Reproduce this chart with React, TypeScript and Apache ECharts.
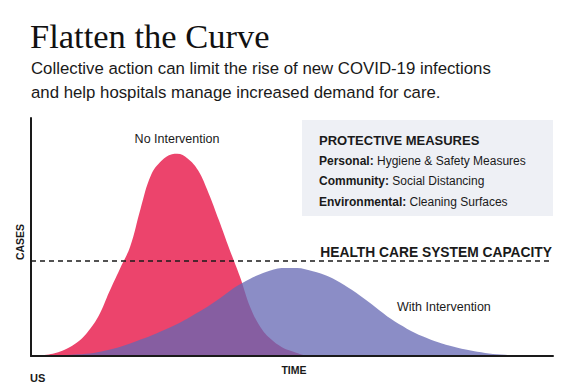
import React, { useEffect, useRef } from "react";
import * as echarts from "echarts";

const redTime = [0, 3, 6, 9, 11, 13, 15, 17, 19, 21, 23, 25, 27, 28, 30, 32, 34, 36, 38, 40, 42, 44, 46, 48, 50, 53, 56, 100];
const redCases = [0, 0.5, 2.2, 6, 10.5, 17, 27, 36.5, 46, 62, 76, 82, 84.8, 85, 83, 78, 68.5, 57, 45, 33.5, 20.5, 12, 7, 3.8, 2, 0.2, 0, 0];

const blueTime = [0, 3, 6, 9, 12, 15, 18, 21, 24, 27, 30, 33, 36, 39, 42, 45, 48, 51, 54, 57, 60, 63, 66, 69, 72, 75, 78, 81, 84, 87, 90, 93, 96, 100];
const blueCases = [0, 0.1, 0.3, 0.7, 1.3, 2.6, 4.5, 6.9, 9.5, 12.4, 15.8, 19.6, 24, 28.8, 32.5, 35.3, 37, 37, 35.6, 33.4, 29.8, 25.4, 20.5, 15.5, 11.5, 8.3, 5.8, 3.9, 2.4, 1.3, 0.6, 0.2, 0, 0];

const capacity = 40;

const titleText = "Flatten the Curve";
const subtitleLines = [
  "Collective action can limit the rise of new COVID-19 infections",
  "and help hospitals manage increased demand for care.",
];
const boxTitle = "PROTECTIVE MEASURES";
const measureLabels = ["Personal:", "Community:", "Environmental:"];
const measureValues = ["Hygiene & Safety Measures", "Social Distancing", "Cleaning Surfaces"];
const seriesNames = ["No Intervention", "With Intervention"];
const capacityLabel = "HEALTH CARE SYSTEM CAPACITY";
const xName = "TIME";
const yName = "CASES";
const footer = "US";

const INK = "#1a1a1a";
const SANS = "'Liberation Sans', Arial, sans-serif";

function txt(x: number, y: number, text: string, font: string, align: string = "left", extra: any = {}) {
  return {
    type: "text",
    x,
    y,
    z: 20,
    ...extra,
    style: {
      text,
      font,
      fill: INK,
      align,
      textAlign: align,
      verticalAlign: "middle",
      textVerticalAlign: "middle",
    },
  };
}

export default function App() {
  const ref = useRef<HTMLDivElement>(null);
  useEffect(() => {
    if (!ref.current) return;
    const chart = echarts.init(ref.current, undefined, { renderer: "svg" });
    const boldFont = `bold 12px ${SANS}`;
    const labelWidths = [58, 73.3, 90.5];
    const measureTexts: any[] = [];
    measureLabels.forEach((lab, i) => {
      const y = 161 + i * 20.3;
      measureTexts.push(txt(319, y, lab, boldFont));
      measureTexts.push(txt(319 + labelWidths[i], y, measureValues[i], `12px ${SANS}`));
    });
    chart.setOption({
      animation: false,
      backgroundColor: "#ffffff",
      grid: { left: 31, right: 23, top: 118, bottom: 27 },
      xAxis: {
        type: "value",
        min: 0,
        max: 100,
        z: 10,
        axisLine: { show: true, lineStyle: { color: "#1a1a1a", width: 2 } },
        axisTick: { show: false },
        axisLabel: { show: false },
        splitLine: { show: false },
      },
      yAxis: {
        type: "value",
        min: 0,
        max: 100,
        z: 10,
        axisLine: { show: true, lineStyle: { color: "#1a1a1a", width: 2 } },
        axisTick: { show: false },
        axisLabel: { show: false },
        splitLine: { show: false },
      },
      series: [
        {
          name: seriesNames[0],
          type: "line",
          smooth: 0.4,
          showSymbol: false,
          symbol: "none",
          lineStyle: { width: 0 },
          areaStyle: { color: "#ec446c", opacity: 1 },
          data: redTime.map((t, i) => [t, redCases[i]]),
          z: 2,
        },
        {
          name: seriesNames[1],
          type: "line",
          smooth: 0.3,
          showSymbol: false,
          symbol: "none",
          lineStyle: { width: 0 },
          areaStyle: { color: "#6467b3", opacity: 0.75 },
          data: blueTime.map((t, i) => [t, blueCases[i]]),
          z: 3,
          markLine: {
            silent: true,
            symbol: "none",
            label: { show: false },
            lineStyle: { color: "#1a1a1a", width: 1.6, type: [5, 4] },
            data: [{ yAxis: capacity }],
            z: 5,
          },
        },
      ],
      graphic: [
        {
          type: "rect",
          shape: { x: 302, y: 120, width: 251, height: 96 },
          style: { fill: "#eef0f5" },
          z: 1,
        },
        {
          type: "text",
          x: 30,
          y: 35.5,
          z: 20,
          style: {
            text: titleText,
            font: "34.5px 'Liberation Serif', 'DejaVu Serif', serif",
            fill: "#111",
            align: "left",
            textAlign: "left",
            verticalAlign: "middle",
            textVerticalAlign: "middle",
          },
        },
        txt(31, 68.5, subtitleLines[0], `16.8px ${SANS}`),
        txt(31, 92.5, subtitleLines[1], `16.8px ${SANS}`),
        txt(319, 140.5, boxTitle, `bold 13px ${SANS}`),
        ...measureTexts,
        txt(552, 252.5, capacityLabel, `bold 13.8px ${SANS}`, "right"),
        txt(177, 139, seriesNames[0], `12.5px ${SANS}`, "center"),
        txt(397, 307, seriesNames[1], `12.5px ${SANS}`, "left"),
        txt(294, 369.5, xName, `bold 10.5px ${SANS}`, "center"),
        txt(20, 242, yName, `bold 10.5px ${SANS}`, "center", { rotation: Math.PI / 2 }),
        txt(30, 378, footer, `bold 11px ${SANS}`),
      ],
    });
    return () => chart.dispose();
  }, []);
  return (
    <div
      ref={ref}
      style={{ position: "fixed", left: 0, top: 0, width: 576, height: 383, background: "#fff" }}
    />
  );
}
